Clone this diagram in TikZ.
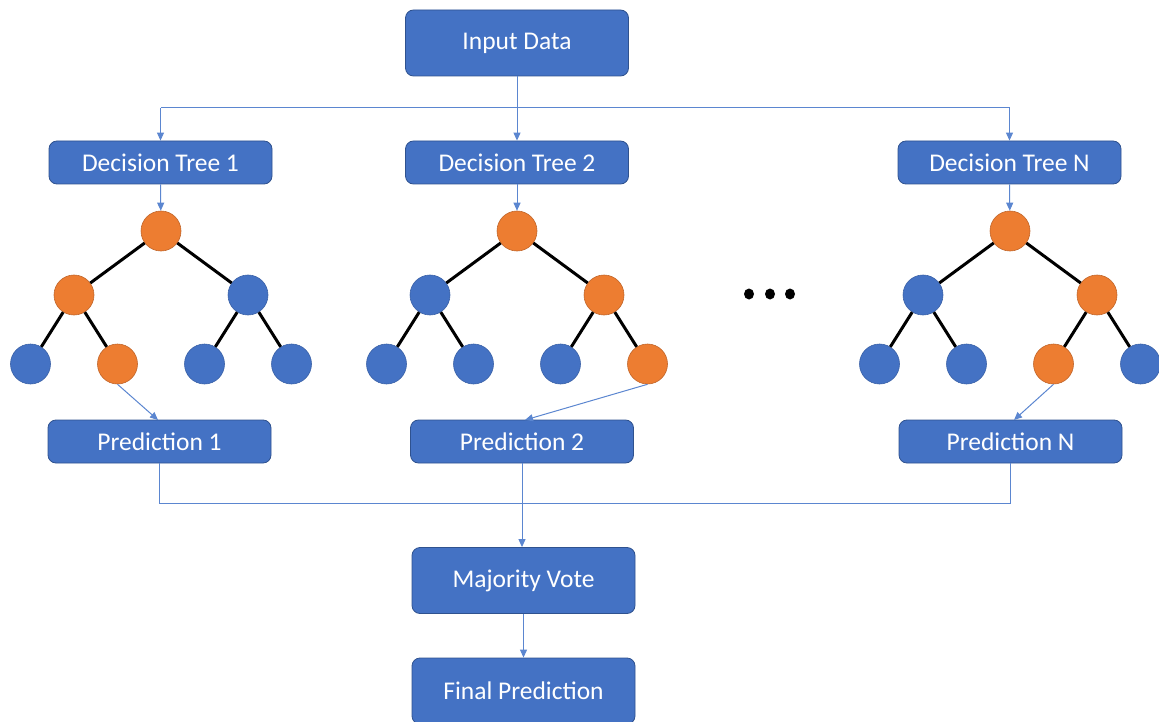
\documentclass[tikz,border=0pt]{standalone}
\usepackage{fontspec}
\setmainfont{Carlito}
\usetikzlibrary{arrows.meta,shapes.geometric}
\definecolor{boxblue}{HTML}{4472C4}
\definecolor{boxedge}{HTML}{2F528F}
\definecolor{leaforange}{HTML}{ED7D31}
\definecolor{orangeedge}{HTML}{C0652A}
\definecolor{linkblue}{HTML}{5B86D0}
\tikzset{
  box/.style={draw=boxedge, line width=0.8pt, fill=boxblue, rounded corners=8pt,
    text=white, font=\fontsize{25.5}{28}\selectfont, inner sep=0pt, anchor=center},
  smallbox/.style={box, minimum width=223pt, minimum height=43pt},
  bigbox/.style={box, minimum width=223pt, minimum height=66pt},
  bnode/.style={circle, fill=boxblue, draw=boxblue!85!black, line width=0.6pt, minimum size=40pt, inner sep=0pt},
  onode/.style={circle, fill=leaforange, draw=orangeedge, line width=0.6pt, minimum size=40pt, inner sep=0pt},
  branch/.style={black, line width=3pt},
  link/.style={linkblue, line width=1pt},
  linkarrow/.style={link, -{Triangle[length=8pt,width=7pt]}},
  dotmark/.style={ellipse, fill=black, minimum width=10pt, minimum height=11pt, inner sep=0pt},
}
\begin{document}
\begin{tikzpicture}[x=1pt,y=-1pt]
\useasboundingbox (0,0) rectangle (1159,722);
\clip (0,0) rectangle (1159,722);

% top input and the three tree headers
\node[bigbox] (input) at (517,43) {Input Data};
\node[smallbox] (dt1) at (160.5,162.5) {Decision Tree 1};
\node[smallbox] (dt2) at (517,162.5) {Decision Tree 2};
\node[smallbox] (dtn) at (1009.5,162.5) {Decision Tree N};

% distribution bus
\coordinate (busL) at (160.5,108);
\coordinate (busR) at (1009.5,108);
\draw[link] (busL) -- (busR);
\draw[linkarrow] (input.south) -- (dt2.north);
\draw[linkarrow] (busL) -- (dt1.north);
\draw[linkarrow] (busR) -- (dtn.north);

% a tree: #1 name prefix, #2 root x, #3..#9 node styles
\newcommand{\drawtree}[9]{%
  \node[#3] (#1r) at (#2,231) {};
  \node[#4] (#1a) at (#2-87,295) {};
  \node[#5] (#1b) at (#2+87,295) {};
  \node[#6] (#1aa) at (#2-130.5,364) {};
  \node[#7] (#1ab) at (#2-43.5,364) {};
  \node[#8] (#1ba) at (#2+43.5,364) {};
  \node[#9] (#1bb) at (#2+130.5,364) {};
  \draw[branch] (#1r) -- (#1a);
  \draw[branch] (#1r) -- (#1b);
  \draw[branch] (#1a) -- (#1aa);
  \draw[branch] (#1a) -- (#1ab);
  \draw[branch] (#1b) -- (#1ba);
  \draw[branch] (#1b) -- (#1bb);
}
\drawtree{ta}{161}{onode}{onode}{bnode}{bnode}{onode}{bnode}{bnode}
\drawtree{tb}{517}{onode}{bnode}{onode}{bnode}{bnode}{bnode}{onode}
\drawtree{tn}{1010}{onode}{bnode}{onode}{bnode}{bnode}{onode}{bnode}

\draw[linkarrow] (dt1.south) -- (tar);
\draw[linkarrow] (dt2.south) -- (tbr);
\draw[linkarrow] (dtn.south) -- (tnr);

% ellipsis between the trees
\node[dotmark] (da) at (749,294) {};
\node[dotmark] (db) at (770,294) {};
\node[dotmark] (dc) at (790,294) {};

% predictions
\node[smallbox] (p1) at (159.5,441.5) {Prediction 1};
\node[smallbox] (p2) at (522,441.5) {Prediction 2};
\node[smallbox] (pn) at (1010.5,441.5) {Prediction N};

\coordinate (p1in) at (158,420);
\coordinate (p2in) at (525,420);
\coordinate (pnin) at (1014,420);
\draw[linkarrow] (taab.south) -- (p1in);
\draw[linkarrow] (tbbb.south) -- (p2in);
\draw[linkarrow] (tnba.south) -- (pnin);

% voting
\node[bigbox] (vote) at (523.5,580.5) {Majority Vote};
\node[bigbox] (final) at (523.5,691) {Final Prediction};

\coordinate (cL) at (159.5,503.5);
\coordinate (cR) at (1010.5,503.5);
\draw[link] (p1.south) -- (cL) -- (cR) -- (pn.south);
\draw[linkarrow] (p2.south) -- (p2.south |- vote.north);
\draw[linkarrow] (vote.south) -- (final.north);
\end{tikzpicture}
\end{document}
